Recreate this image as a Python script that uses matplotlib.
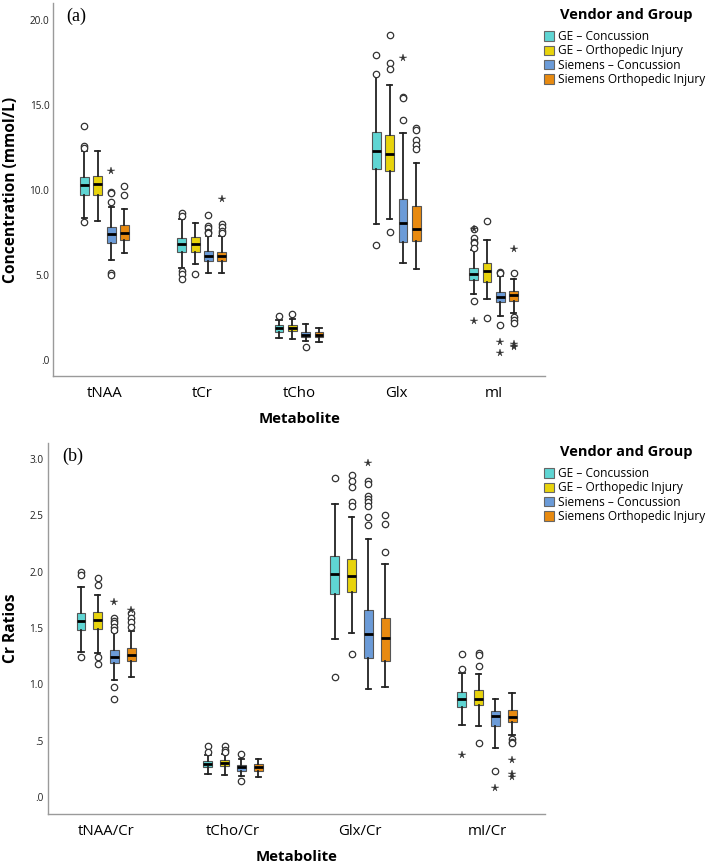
import matplotlib
matplotlib.use("Agg")
import matplotlib.pyplot as plt
from matplotlib.patches import Patch

plt.rcParams['font.family'] = ['Open Sans', 'DejaVu Sans']

GROUPS = ["GE \u2013 Concussion", "GE \u2013 Orthopedic Injury",
          "Siemens \u2013 Concussion", "Siemens Orthopedic Injury"]
COLORS = ["#5fd5d3", "#e8d30c", "#6b9bd8", "#e88a10"]

# ---------------- Panel (a): concentrations ----------------
A_CATS = ["tNAA", "tCr", "tCho", "Glx", "mI"]
A_WLO = [[8.35, 5.43, 1.31, 7.98, 3.88],
         [8.20, 5.63, 1.24, 8.31, 3.61],
         [5.88, 5.10, 1.14, 5.69, 2.61],
         [6.27, 5.10, 1.06, 5.35, 2.75]]
A_Q1 = [[9.72, 6.33, 1.67, 11.24, 4.71],
        [9.71, 6.37, 1.71, 11.12, 4.57],
        [6.90, 5.82, 1.33, 6.92, 3.43],
        [7.08, 5.84, 1.33, 7.00, 3.47]]
A_MED = [[10.29, 6.80, 1.88, 12.29, 5.06],
         [10.33, 6.80, 1.90, 12.12, 5.25],
         [7.39, 6.14, 1.47, 8.06, 3.73],
         [7.45, 6.12, 1.49, 7.69, 3.80]]
A_Q3 = [[10.78, 7.16, 2.04, 13.43, 5.43],
        [10.84, 7.22, 2.06, 13.25, 5.69],
        [7.84, 6.43, 1.63, 9.45, 4.02],
        [7.94, 6.33, 1.67, 9.08, 4.04]]
A_WHI = [[12.30, 8.30, 2.35, 16.75, 6.45],
         [12.30, 8.04, 2.43, 16.18, 7.06],
         [9.00, 7.30, 2.10, 13.33, 4.95],
         [8.86, 7.30, 1.86, 11.57, 4.78]]
A_CIRC = [[[13.76, 12.60, 12.50, 8.13], [8.63, 8.47, 5.24, 5.08, 4.78], [2.61], [17.94, 16.82, 6.76], [7.71, 7.16, 6.96, 6.86, 6.60, 3.47]],
          [[], [5.08], [2.69], [19.14, 17.45, 17.10, 7.51], [8.18, 2.49]],
          [[9.90, 9.85, 9.28, 5.14, 5.00], [8.53, 7.90, 7.75, 7.55, 7.45], [0.78], [15.50, 15.40, 14.12], [5.20, 5.10, 2.04]],
          [[10.25, 9.73], [7.98, 7.80, 7.60, 7.45], [], [13.63, 13.55, 12.94, 12.65, 12.40], [5.14, 2.55, 2.35, 2.19]]]
A_STAR = [[[], [], [], [], [7.71, 2.29]],
          [[], [], [], [], []],
          [[11.14], [], [], [17.75], [1.04, 0.39]],
          [[], [9.45], [], [], [6.55, 0.92, 0.82, 0.78]]]
A_YTICKS = [0, 5, 10, 15, 20]
A_YTICKLABELS = [".0", "5.0", "10.0", "15.0", "20.0"]

# ---------------- Panel (b): Cr ratios ----------------
B_CATS = ["tNAA/Cr", "tCho/Cr", "Glx/Cr", "mI/Cr"]
B_WLO = [[1.29, 0.200, 1.400, 0.640],
         [1.28, 0.195, 1.454, 0.633],
         [1.04, 0.186, 0.962, 0.438],
         [1.06, 0.180, 0.977, 0.550]]
B_Q1 = [[1.483, 0.269, 1.800, 0.800],
        [1.489, 0.275, 1.814, 0.817],
        [1.190, 0.234, 1.237, 0.630],
        [1.210, 0.234, 1.208, 0.669]]
B_MED = [[1.557, 0.296, 1.980, 0.868],
         [1.566, 0.300, 1.957, 0.868],
         [1.246, 0.264, 1.445, 0.720],
         [1.260, 0.266, 1.406, 0.708]]
B_Q3 = [[1.630, 0.320, 2.134, 0.930],
        [1.637, 0.329, 2.110, 0.950],
        [1.300, 0.284, 1.660, 0.766],
        [1.320, 0.293, 1.587, 0.773]]
B_WHI = [[1.86, 0.373, 2.60, 1.10],
         [1.79, 0.380, 2.48, 1.09],
         [1.46, 0.335, 2.29, 0.87],
         [1.47, 0.337, 2.07, 0.92]]
B_CIRC = [[[1.996, 1.97, 1.246], [0.453, 0.40], [2.83, 1.063], [1.267, 1.137]],
          [[1.94, 1.88, 1.24, 1.18], [0.456, 0.42, 0.40], [2.854, 2.80, 2.747, 2.617, 2.584, 1.267], [1.28, 1.26, 1.163, 0.482]],
          [[1.587, 1.563, 1.54, 1.51, 1.48, 0.974, 0.87], [0.38, 0.145], [2.80, 2.775, 2.673, 2.645, 2.615, 2.585, 2.48, 2.41], [0.231]],
          [[1.63, 1.587, 1.55, 1.507], [], [2.50, 2.42, 2.17], [0.515, 0.49, 0.477]]]
B_STAR = [[[], [], [], [0.373]],
          [[], [], [], []],
          [[1.73], [], [2.96], [0.083]],
          [[1.66], [], [], [0.33, 0.20, 0.18]]]
B_YTICKS = [0, 0.5, 1.0, 1.5, 2.0, 2.5, 3.0]
B_YTICKLABELS = [".0", ".5", "1.0", "1.5", "2.0", "2.5", "3.0"]


def draw_panel(ax, cats, wlo, q1, med, q3, whi, circ, star, spacing, width):
    ng = len(wlo)
    for g in range(ng):
        stats = []
        for c in range(len(cats)):
            stats.append(dict(med=med[g][c], q1=q1[g][c], q3=q3[g][c],
                              whislo=wlo[g][c], whishi=whi[g][c], fliers=[]))
        pos = [c + (g - (ng - 1) / 2) * spacing for c in range(len(cats))]
        ax.bxp(stats, positions=pos, widths=width, showfliers=False,
               capwidths=width * 0.6, patch_artist=True,
               boxprops=dict(facecolor=COLORS[g], edgecolor="#555555", linewidth=0.8),
               medianprops=dict(color="black", linewidth=2.0),
               whiskerprops=dict(color="#222222", linewidth=1.3),
               capprops=dict(color="#222222", linewidth=1.3),
               manage_ticks=False, zorder=3)
        for c in range(len(cats)):
            x = pos[c]
            if circ[g][c]:
                ax.plot([x] * len(circ[g][c]), circ[g][c], linestyle="none",
                        marker="o", ms=4.6, mfc="white", mec="#333333",
                        mew=0.9, zorder=4)
            if star[g][c]:
                ax.plot([x] * len(star[g][c]), star[g][c], linestyle="none",
                        marker="*", ms=5.5, color="#333333", mew=0.3, zorder=5)
    ax.set_xticks(range(len(cats)))
    ax.set_xticklabels(cats, fontsize=10.8)
    for s in ["top", "right"]:
        ax.spines[s].set_visible(False)
    for s in ["left", "bottom"]:
        ax.spines[s].set_color("#9a9a9a")
        ax.spines[s].set_linewidth(1.0)
    ax.tick_params(axis="both", length=0)
    ax.tick_params(axis="x", pad=7)
    ax.tick_params(axis="y", pad=3, labelsize=7.2, labelcolor="#222222")


fig = plt.figure(figsize=(7.09, 8.64), dpi=100)

axa = fig.add_axes([53.5 / 709, 1 - 376 / 864, (545 - 53.5) / 709, (376 - 3) / 864])
draw_panel(axa, A_CATS, A_WLO, A_Q1, A_MED, A_Q3, A_WHI, A_CIRC, A_STAR, 0.137, 0.09)
axa.set_xlim(-0.524, 4.527)
axa.set_ylim(-0.94, 21.0)
axa.set_yticks(A_YTICKS)
axa.set_yticklabels(A_YTICKLABELS)
axa.set_ylabel("Concentration (mmol/L)", fontsize=11.2, fontweight="bold")
axa.yaxis.set_label_coords(-0.07, 0.5)
axa.set_xlabel("Metabolite", fontsize=10.8, fontweight="bold")
axa.xaxis.set_label_coords(0.5, -0.097)
axa.text(0.025, 0.987, "(a)", transform=axa.transAxes, fontsize=13,
         family="Liberation Serif", va="top", ha="left")

axb = fig.add_axes([47.7 / 709, 1 - 814 / 864, (545 - 47.7) / 709, (814 - 443) / 864])
draw_panel(axb, B_CATS, B_WLO, B_Q1, B_MED, B_Q3, B_WHI, B_CIRC, B_STAR, 0.132, 0.07)
axb.set_xlim(-0.46, 3.457)
axb.set_ylim(-0.151, 3.14)
axb.set_yticks(B_YTICKS)
axb.set_yticklabels(B_YTICKLABELS)
axb.set_ylabel("Cr Ratios", fontsize=11.2, fontweight="bold")
axb.yaxis.set_label_coords(-0.057, 0.5)
axb.set_xlabel("Metabolite", fontsize=10.8, fontweight="bold")
axb.xaxis.set_label_coords(0.5, -0.097)
axb.text(0.03, 0.987, "(b)", transform=axb.transAxes, fontsize=13,
         family="Liberation Serif", va="top", ha="left")

handles = [Patch(facecolor=COLORS[g], edgecolor="#666666", linewidth=0.8, label=GROUPS[g])
           for g in range(len(GROUPS))]
for title_y, entries_top in [(15, 30), (452, 467)]:
    fig.text(626 / 709, 1 - title_y / 864, "Vendor and Group", fontsize=10.5,
             fontweight="bold", ha="center", va="center")
    fig.legend(handles=handles, loc="upper left",
               bbox_to_anchor=(544 / 709, 1 - entries_top / 864), frameon=False,
               fontsize=8.6, handlelength=0.85, handleheight=0.85,
               handletextpad=0.3, labelspacing=0.12, borderpad=0.0,
               borderaxespad=0.0)

fig.savefig("out.png", dpi=100)
